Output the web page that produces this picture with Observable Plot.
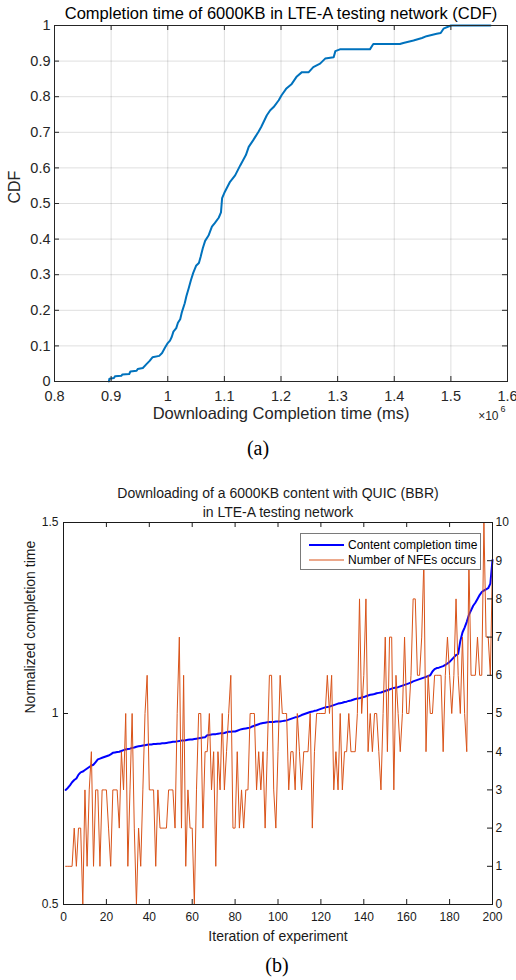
<!DOCTYPE html>
<html><head><meta charset="utf-8">
<script src="https://cdn.jsdelivr.net/npm/d3@7"></script>
<script src="https://cdn.jsdelivr.net/npm/@observablehq/plot@0.6"></script>
<style>
body{margin:0;background:#fff;width:516px;height:980px;overflow:hidden;font-family:"Liberation Sans",Arial,sans-serif;position:relative}
#a,#b{position:absolute;left:0}
#a{top:0}#b{top:470px}
.cap{position:absolute;font-family:"Liberation Serif","Times New Roman",serif;font-size:20px;transform:translate(-50%,-50%);color:#000}
#legend{position:absolute;left:300px;top:533px;width:179px;height:35px;border:1px solid #7a7a7a;background:#fff;z-index:5}
#legend svg{position:absolute;left:0;top:0;font-family:"Liberation Sans",Arial,sans-serif;font-size:12px}
</style></head><body>
<div id="a"></div>
<div id="b"></div>
<div class="cap" style="left:258px;top:448px">(a)</div>
<div class="cap" style="left:277px;top:965px">(b)</div>
<div id="legend"><svg width="179" height="35">
<line x1="8" x2="43" y1="11" y2="11" stroke="#0000FF" stroke-width="2"/>
<line x1="8" x2="43" y1="26" y2="26" stroke="#D95319" stroke-width="1"/>
<text x="47" y="15" fill="#000">Content completion time</text>
<text x="47" y="30" fill="#000">Number of NFEs occurs</text>
</svg></div>
<script>
// ---------- (a) CDF data ----------
const titleA = "Completion time of 6000KB in LTE-A testing network (CDF)";
const xLabelA = "Downloading Completion time (ms)";
const yLabelA = "CDF";
// completion time in units of 10^6 ms
const cdfTime = [0.896,0.897,0.905,0.907,0.918,0.920,0.932,0.934,0.945,0.947,0.956,0.962,0.968,0.973,0.985,0.990,0.995,1.000,1.004,1.007,1.010,1.015,1.018,1.022,1.025,1.030,1.033,1.037,1.041,1.045,1.050,1.055,1.058,1.062,1.066,1.072,1.078,1.083,1.090,1.094,1.096,1.100,1.110,1.119,1.128,1.138,1.143,1.151,1.160,1.165,1.175,1.181,1.187,1.196,1.201,1.209,1.219,1.228,1.237,1.249,1.257,1.269,1.278,1.293,1.296,1.304,1.357,1.363,1.410,1.416,1.434,1.449,1.457,1.475,1.482,1.487,1.500,1.570];
const cdfValue = [0.000,0.008,0.010,0.015,0.016,0.020,0.021,0.028,0.030,0.035,0.038,0.048,0.058,0.068,0.072,0.080,0.095,0.108,0.115,0.125,0.140,0.150,0.165,0.175,0.195,0.220,0.240,0.262,0.285,0.305,0.325,0.333,0.350,0.375,0.395,0.410,0.435,0.445,0.460,0.475,0.515,0.530,0.561,0.579,0.607,0.636,0.659,0.678,0.701,0.715,0.748,0.762,0.771,0.790,0.804,0.822,0.836,0.857,0.869,0.869,0.883,0.893,0.907,0.911,0.928,0.933,0.933,0.948,0.948,0.951,0.958,0.965,0.970,0.977,0.979,0.991,1.000,1.000];
const cdfXTicks = [0.8,0.9,1.0,1.1,1.2,1.3,1.4,1.5,1.6];
const cdfYTicks = [0,0.1,0.2,0.3,0.4,0.5,0.6,0.7,0.8,0.9,1.0];

// ---------- (b) data ----------
const titleB1 = "Downloading of a 6000KB content with QUIC (BBR)";
const titleB2 = "in LTE-A testing network";
const xLabelB = "Iteration of experiment";
const yLabelB = "Normalized completion time";
const normTime = [
0.800,0.805,0.812,0.820,0.826,0.830,0.840,0.846,0.848,0.852,
0.856,0.860,0.864,0.866,0.873,0.880,0.882,0.884,0.886,0.888,
0.890,0.893,0.897,0.898,0.899,0.900,0.902,0.904,0.906,0.907,
0.908,0.910,0.911,0.913,0.914,0.915,0.916,0.917,0.918,0.919,
0.919,0.920,0.920,0.921,0.921,0.922,0.922,0.923,0.924,0.925,
0.926,0.926,0.927,0.928,0.929,0.929,0.930,0.931,0.932,0.932,
0.933,0.934,0.935,0.936,0.937,0.938,0.943,0.944,0.945,0.946,
0.946,0.947,0.948,0.948,0.949,0.951,0.952,0.952,0.953,0.953,
0.955,0.957,0.959,0.960,0.961,0.962,0.963,0.966,0.968,0.970,
0.972,0.974,0.975,0.976,0.977,0.978,0.978,0.978,0.979,0.979,
0.979,0.980,0.981,0.982,0.984,0.986,0.988,0.990,0.991,0.993,
0.996,0.998,1.000,1.002,1.004,1.005,1.007,1.008,1.010,1.012,
1.014,1.016,1.017,1.018,1.020,1.022,1.024,1.026,1.027,1.028,
1.030,1.031,1.033,1.034,1.036,1.038,1.039,1.040,1.042,1.043,
1.045,1.047,1.049,1.050,1.051,1.053,1.054,1.055,1.057,1.059,
1.061,1.063,1.065,1.067,1.068,1.069,1.071,1.073,1.075,1.077,
1.079,1.081,1.084,1.086,1.088,1.090,1.092,1.094,1.096,1.098,
1.100,1.110,1.116,1.119,1.120,1.122,1.124,1.127,1.131,1.135,
1.141,1.147,1.153,1.156,1.190,1.212,1.225,1.240,1.258,1.270,
1.282,1.290,1.300,1.310,1.318,1.322,1.325,1.328,1.340,1.402];
const nfeCount = [
1,1,1,1,2,1,2,2,0,3,
1,3,4,1,3,3,1,3,3,3,
2,1,3,3,3,2,4,3,5,1,
3,5,2,0,2,1,3,5,6,3,
3,3,1,3,2,2,2,2,3,3,
3,2,5,7,2,6,1,3,2,2,
0,3,5,5,2,4,4,5,3,4,
1,4,3,5,3,4,5,6,2,2,
4,2,3,2,3,3,5,5,5,3,
4,3,4,2,4,6,6,3,2,4,
6,5,5,5,3,4,4,3,5,4,
3,4,4,4,5,2,4,5,5,5,
5,5,6,5,6,3,4,3,5,3,
4,4,5,4,4,4,5,8,5,6,
8,4,5,4,5,5,4,3,5,7,
4,7,7,3,6,5,4,5,7,5,
5,6,8,8,6,6,7,9,4,6,
5,5,6,6,6,6,4,6,7,6,
5,6,8,6,5,7,5,4,9,6,
6,6,7,6,6,10,7,7,6,9];
const iterTicks = [0,20,40,60,80,100,120,140,160,180,200];
const normTicks = [0.5,1,1.5];
const nfeTicks = [0,1,2,3,4,5,6,7,8,9,10];

const fmt = d => String(+d.toFixed(2));
const font = '"Liberation Sans", Arial, sans-serif';
const axc = "#262626";

// ---------- chart (a) ----------
{
  const W = 516, H = 470, mL = 54, mR = 9, mT = 25, mB = 89;
  const fw = W - mL - mR, fh = H - mT - mB, tk = 5;
  const pts = cdfTime.map((t, i) => ({t, c: cdfValue[i]}));
  const chart = Plot.plot({
    width: W, height: H, marginLeft: mL, marginRight: mR, marginTop: mT, marginBottom: mB,
    style: {fontFamily: font, color: axc, background: "#fff", overflow: "visible"},
    x: {domain: [0.8, 1.6]},
    y: {domain: [0, 1]},
    marks: [
      Plot.gridX(cdfXTicks, {stroke: axc, strokeOpacity: 0.15}),
      Plot.gridY(cdfYTicks, {stroke: axc, strokeOpacity: 0.15}),
      Plot.line(pts, {x: "t", y: "c", stroke: "#0072BD", strokeWidth: 2}),
      Plot.frame({stroke: axc}),
      Plot.tickX(cdfXTicks, {x: d => d, insetTop: fh - tk, stroke: axc}),
      Plot.tickX(cdfXTicks, {x: d => d, insetBottom: fh - tk, stroke: axc}),
      Plot.tickY(cdfYTicks, {y: d => d, insetRight: fw - tk, stroke: axc}),
      Plot.tickY(cdfYTicks, {y: d => d, insetLeft: fw - tk, stroke: axc}),
      Plot.axisX(cdfXTicks, {tickSize: 0, tickPadding: 9, tickFormat: fmt, fontSize: 14.5, label: null}),
      Plot.axisY(cdfYTicks, {tickSize: 0, tickPadding: 4, tickFormat: fmt, fontSize: 14.5, label: null}),
      Plot.text([titleA], {frameAnchor: "top", lineAnchor: "middle", dy: -12, fontSize: 16.5, fill: "#000"}),
      Plot.text([yLabelA], {frameAnchor: "left", lineAnchor: "middle", dx: -40, rotate: -90, fontSize: 16, fill: axc}),
      Plot.text([xLabelA], {frameAnchor: "bottom", lineAnchor: "middle", dy: 32, fontSize: 16.5, fill: axc}),
      Plot.text(["×10"], {frameAnchor: "bottom-right", lineAnchor: "middle", dx: -9, dy: 35, textAnchor: "end", fontSize: 12, fill: axc}),
      Plot.text(["6"], {frameAnchor: "bottom-right", lineAnchor: "middle", dx: -2, dy: 28, textAnchor: "end", fontSize: 9, fill: axc})
    ]
  });
  document.getElementById("a").append(chart);
}

// ---------- chart (b) ----------
{
  const W = 516, H = 510, mL = 63, mR = 24, mT = 52, mB = 76;
  const fw = W - mL - mR, fh = H - mT - mB, tk = 5;
  const rows = normTime.map((v, i) => ({it: i + 1, v, n: nfeCount[i]}));
  const nfeToY = n => 0.5 + n / 10;
  const chart = Plot.plot({
    width: W, height: H, marginLeft: mL, marginRight: mR, marginTop: mT, marginBottom: mB,
    style: {fontFamily: font, color: "#1a1a1a", background: "#fff", overflow: "visible"},
    x: {domain: [0, 200]},
    y: {domain: [0.5, 1.5]},
    marks: [
      Plot.line(rows, {x: "it", y: "v", stroke: "#0000FF", strokeWidth: 2}),
      Plot.line(rows, {x: "it", y: d => nfeToY(d.n), stroke: "#D95319", strokeWidth: 1}),
      Plot.frame({stroke: "#1a1a1a"}),
      Plot.tickX(iterTicks, {x: d => d, insetTop: fh - tk, stroke: "#1a1a1a"}),
      Plot.tickX(iterTicks, {x: d => d, insetBottom: fh - tk, stroke: "#1a1a1a"}),
      Plot.tickY(normTicks, {y: d => d, insetRight: fw - tk, stroke: "#1a1a1a"}),
      Plot.tickY(nfeTicks.map(nfeToY), {y: d => d, insetLeft: fw - tk, stroke: "#1a1a1a"}),
      Plot.axisX(iterTicks, {tickSize: 0, tickPadding: 8, fontSize: 12, label: null}),
      Plot.axisY(normTicks, {tickSize: 0, tickPadding: 5, tickFormat: fmt, fontSize: 12, label: null}),
      Plot.axisY(nfeTicks.map(nfeToY), {anchor: "right", tickSize: 0, tickPadding: 3, fontSize: 12, label: null,
        tickFormat: d => String(Math.round((d - 0.5) * 10))}),
      Plot.text([titleB1], {frameAnchor: "top", lineAnchor: "middle", dy: -29, fontSize: 14, fill: "#1a1a1a"}),
      Plot.text([titleB2], {frameAnchor: "top", lineAnchor: "middle", dy: -10, fontSize: 14, fill: "#1a1a1a"}),
      Plot.text([yLabelB], {frameAnchor: "left", lineAnchor: "middle", dx: -33, rotate: -90, fontSize: 14, fill: "#1a1a1a"}),
      Plot.text([xLabelB], {frameAnchor: "bottom", lineAnchor: "middle", dy: 32, fontSize: 14, fill: "#1a1a1a"})
    ]
  });
  document.getElementById("b").append(chart);
}
</script>
</body></html>
